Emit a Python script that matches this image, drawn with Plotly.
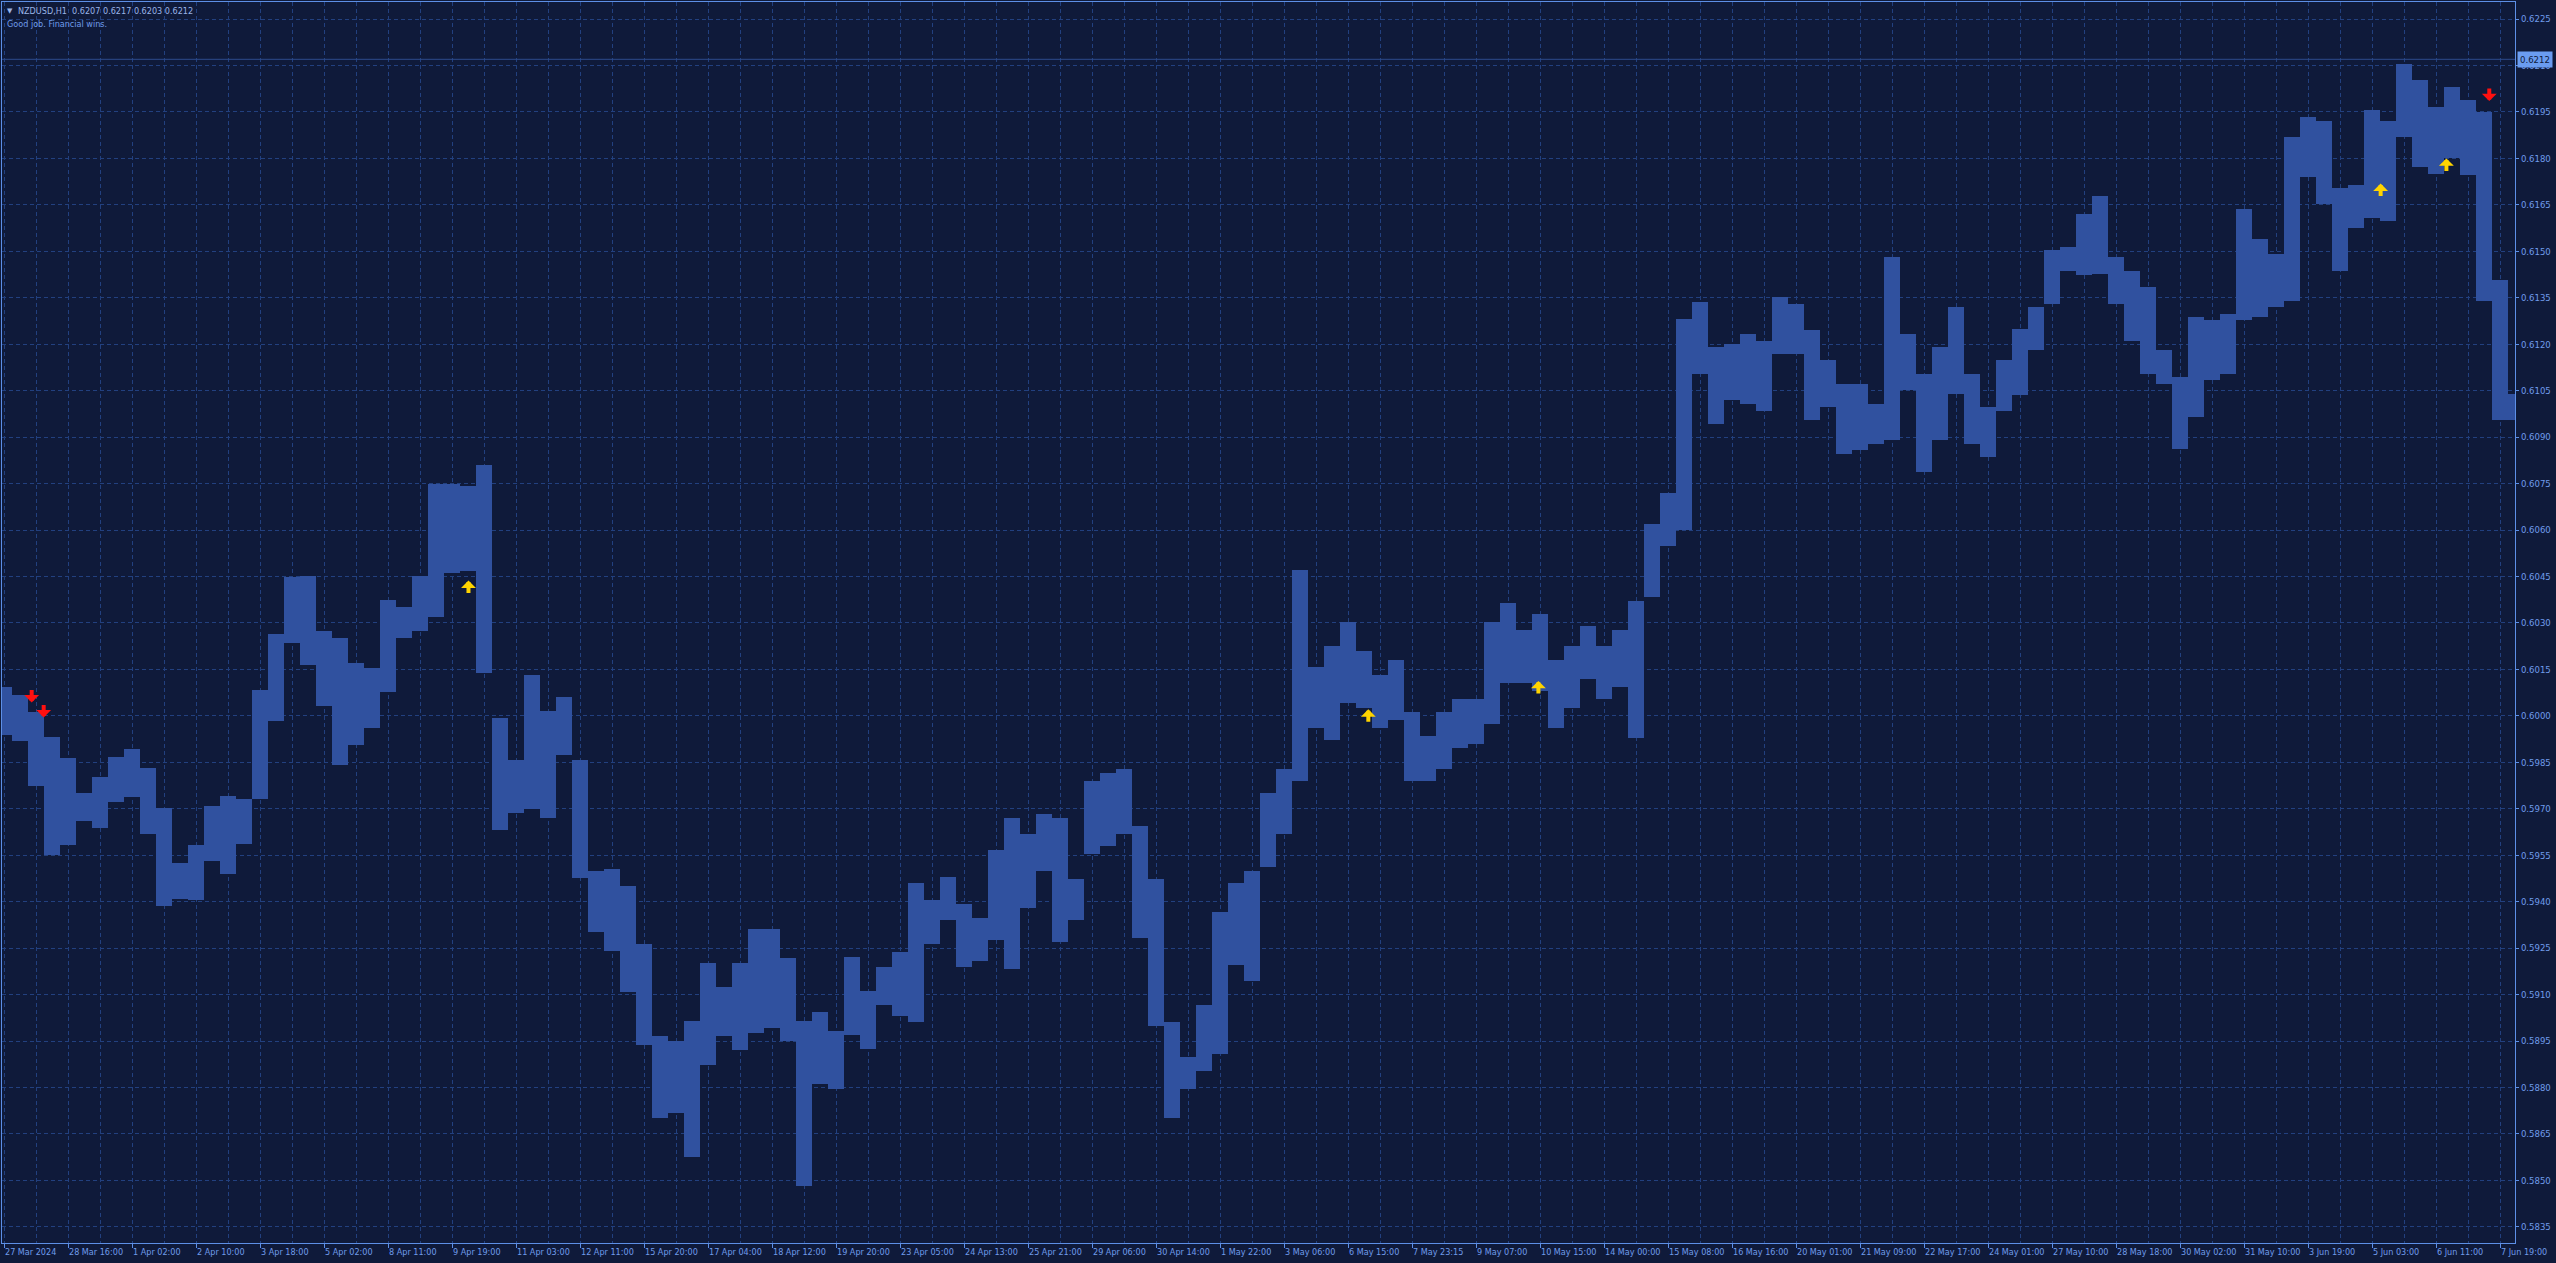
import plotly.graph_objects as go

# ---------------- data ----------------
symbol = "NZDUSD,H1"
quote_open, quote_high, quote_low, quote_close = 0.6207, 0.6217, 0.6203, 0.6212
status_text = "Good job. Financial wins."

# price envelope per sample (each sample = 8 consecutive H1 bars)
bar_high = [
    0.60092, 0.60067, 0.60013, 0.59933, 0.59863, 0.59750, 0.59804, 0.59868, 0.59893, 0.59831,
    0.59702, 0.59524, 0.59583, 0.59710, 0.59741, 0.59733, 0.60085, 0.60265, 0.60450, 0.60453,
    0.60273, 0.60250, 0.60171, 0.60156, 0.60375, 0.60351, 0.60453, 0.60750, 0.60750, 0.60742,
    0.60809, 0.59993, 0.59859, 0.60132, 0.60015, 0.60062, 0.59859, 0.59499, 0.59507, 0.59452,
    0.59264, 0.58967, 0.58951, 0.59014, 0.59202, 0.59123, 0.59202, 0.59311, 0.59311, 0.59217,
    0.59014, 0.59045, 0.58983, 0.59220, 0.59111, 0.59190, 0.59236, 0.59460, 0.59407, 0.59480,
    0.59394, 0.59348, 0.59566, 0.59671, 0.59618, 0.59684, 0.59671, 0.59473, 0.59790, 0.59816,
    0.59829, 0.59645, 0.59473, 0.59012, 0.58900, 0.59065, 0.59368, 0.59460, 0.59500, 0.59750,
    0.59829, 0.60470, 0.60159, 0.60225, 0.60304, 0.60211, 0.60132, 0.60180, 0.60014, 0.59935,
    0.60014, 0.60053, 0.60053, 0.60304, 0.60363, 0.60277, 0.60330, 0.60180, 0.60225, 0.60290,
    0.60225, 0.60277, 0.60370, 0.60620, 0.60720, 0.61280, 0.61336, 0.61191, 0.61202, 0.61234,
    0.61212, 0.61352, 0.61330, 0.61245, 0.61148, 0.61072, 0.61072, 0.61008, 0.61481, 0.61234,
    0.61105, 0.61191, 0.61320, 0.61105, 0.60997, 0.61148, 0.61250, 0.61320, 0.61503, 0.61514,
    0.61621, 0.61680, 0.61481, 0.61438, 0.61384, 0.61180, 0.61094, 0.61288, 0.61277, 0.61298,
    0.61637, 0.61541, 0.61492, 0.61869, 0.61933, 0.61922, 0.61704, 0.61715, 0.61955, 0.61922,
    0.62105, 0.62052, 0.61966, 0.62030, 0.61987, 0.61949, 0.61406, 0.61040,
]
bar_low = [
    0.59938, 0.59920, 0.59772, 0.59551, 0.59583, 0.59659, 0.59637, 0.59723, 0.59739, 0.59620,
    0.59385, 0.59408, 0.59406, 0.59530, 0.59491, 0.59585, 0.59733, 0.59984, 0.60234, 0.60164,
    0.60031, 0.59843, 0.59905, 0.59960, 0.60078, 0.60250, 0.60273, 0.60320, 0.60461, 0.60468,
    0.60140, 0.59632, 0.59687, 0.59700, 0.59671, 0.59874, 0.59475, 0.59303, 0.59241, 0.59108,
    0.58936, 0.58701, 0.58717, 0.58576, 0.58873, 0.58967, 0.58920, 0.58977, 0.58992, 0.58951,
    0.58482, 0.58811, 0.58795, 0.58970, 0.58926, 0.59065, 0.59032, 0.59012, 0.59263, 0.59342,
    0.59190, 0.59210, 0.59276, 0.59184, 0.59381, 0.59500, 0.59269, 0.59342, 0.59553, 0.59579,
    0.59618, 0.59282, 0.58999, 0.58702, 0.58795, 0.58854, 0.58907, 0.59197, 0.59144, 0.59513,
    0.59618, 0.59790, 0.59961, 0.59922, 0.60040, 0.60027, 0.59960, 0.59987, 0.59790, 0.59790,
    0.59829, 0.59895, 0.59908, 0.59974, 0.60106, 0.60106, 0.60080, 0.59961, 0.60027, 0.60119,
    0.60053, 0.60093, 0.59928, 0.60383, 0.60550, 0.60600, 0.61105, 0.60943, 0.61019, 0.61008,
    0.60986, 0.61169, 0.61169, 0.60954, 0.60997, 0.60846, 0.60857, 0.60879, 0.60890, 0.61051,
    0.60787, 0.60890, 0.61040, 0.60879, 0.60836, 0.60986, 0.61037, 0.61180, 0.61331, 0.61438,
    0.61424, 0.61427, 0.61330, 0.61212, 0.61105, 0.61072, 0.60863, 0.60965, 0.61083, 0.61105,
    0.61277, 0.61288, 0.61320, 0.61341, 0.61740, 0.61653, 0.61435, 0.61575, 0.61607, 0.61597,
    0.61869, 0.61772, 0.61750, 0.61801, 0.61747, 0.61340, 0.60954, 0.60954,
]

time_labels = [
    "27 Mar 2024", "28 Mar 16:00", "1 Apr 02:00", "2 Apr 10:00", "3 Apr 18:00",
    "5 Apr 02:00", "8 Apr 11:00", "9 Apr 19:00", "11 Apr 03:00", "12 Apr 11:00",
    "15 Apr 20:00", "17 Apr 04:00", "18 Apr 12:00", "19 Apr 20:00", "23 Apr 05:00",
    "24 Apr 13:00", "25 Apr 21:00", "29 Apr 06:00", "30 Apr 14:00", "1 May 22:00",
    "3 May 06:00", "6 May 15:00", "7 May 23:15", "9 May 07:00", "10 May 15:00",
    "14 May 00:00", "15 May 08:00", "16 May 16:00", "20 May 01:00", "21 May 09:00",
    "22 May 17:00", "24 May 01:00", "27 May 10:00", "28 May 18:00", "30 May 02:00",
    "31 May 10:00", "3 Jun 19:00", "5 Jun 03:00", "6 Jun 11:00", "7 Jun 19:00",
]
samples_per_label = 4

# signal arrows: position in samples, price at the arrow tip
sell_x = [1.73, 2.48, 155.33]
sell_price = [0.60043, 0.59995, 0.61985]
buy_x = [29.03, 85.27, 95.90, 148.54, 152.65]
buy_price = [0.60437, 0.60021, 0.60113, 0.61719, 0.61800]

price_min, price_max = 0.58298, 0.62305
price_tick0, price_step = 0.5835, 0.0015

# ---------------- styling ----------------
BG = "#0f1a3a"
GRID = "#22407f"
AXIS = "#5d8fe6"
TXT = "#6f9ceb"
BARC = "#30519f"
FONT = "DejaVu Sans Condensed, Roboto, Liberation Sans, sans-serif"
DASH = "4px,3px"

n = len(bar_high)
xs = list(range(n))

fig = go.Figure()
fig.add_trace(go.Bar(
    x=xs,
    y=[h - l for h, l in zip(bar_high, bar_low)],
    base=bar_low,
    width=1.0,
    marker=dict(color=BARC, line=dict(width=0)),
    hoverinfo="skip",
))

# current price line
fig.add_hline(y=quote_close, line=dict(color="#2c4a8c", width=1))

tickvals = [k * samples_per_label for k in range(len(time_labels))]

fig.update_layout(
    width=2556, height=1263,
    margin=dict(l=2, r=41, t=2, b=20, pad=0),
    paper_bgcolor=BG, plot_bgcolor=BG,
    showlegend=False, bargap=0,
    font=dict(family=FONT, size=9, color=TXT),
    xaxis=dict(
        range=[-0.125, -0.125 + 2513 / 16],
        tickmode="array", tickvals=tickvals, ticktext=time_labels,
        tickangle=0,
        ticks="outside", ticklen=4, tickcolor=AXIS, tickwidth=1,
        ticklabelposition="outside right",
        showline=True, linecolor=AXIS, linewidth=1, mirror=True,
        showgrid=True, gridcolor=GRID, griddash=DASH, gridwidth=1,
        minor=dict(tickmode="linear", tick0=0, dtick=2, showgrid=True,
                   gridcolor=GRID, griddash=DASH, gridwidth=1, ticks=""),
        zeroline=False, fixedrange=True,
        tickfont=dict(family=FONT, size=9, color=TXT),
    ),
    yaxis=dict(
        side="right",
        range=[price_min, price_max],
        tickmode="linear", tick0=price_tick0, dtick=price_step, tickformat=".4f",
        ticks="outside", ticklen=3, tickcolor=AXIS,
        showline=True, linecolor=AXIS, linewidth=1, mirror=True,
        showgrid=True, gridcolor=GRID, griddash=DASH, gridwidth=1,
        zeroline=False, fixedrange=True,
        tickfont=dict(family=FONT, size=9.5, color=TXT),
    ),
)

# signal arrows
for x, p in zip(sell_x, sell_price):
    fig.add_annotation(x=x, y=p, xref="x", yref="y", text="", showarrow=True,
                       ax=0, ay=-14, arrowhead=1, arrowsize=0.62, arrowwidth=4,
                       arrowcolor="#ff1010", standoff=0)
for x, p in zip(buy_x, buy_price):
    fig.add_annotation(x=x, y=p, xref="x", yref="y", text="", showarrow=True,
                       ax=0, ay=14, arrowhead=1, arrowsize=0.62, arrowwidth=4,
                       arrowcolor="#ffd400", standoff=0)

# current price label box
fig.add_annotation(x=1, y=quote_close, xref="paper", yref="y", xanchor="left",
                   yanchor="middle", xshift=2, text=f"{quote_close:.4f}", showarrow=False,
                   bgcolor="#6a9cf0", borderpad=2,
                   font=dict(family=FONT, size=9.5, color="#0f1a3a"))

# header texts
fig.add_annotation(x=0, y=1, xref="paper", yref="paper", xanchor="left", yanchor="top",
                   xshift=3, yshift=-3, text="▼", showarrow=False,
                   font=dict(family="DejaVu Sans", size=7, color="#9ab4e8"))
fig.add_annotation(x=0, y=1, xref="paper", yref="paper", xanchor="left", yanchor="top",
                   xshift=14, yshift=-2, showarrow=False,
                   text=f"{symbol}  {quote_open:.4f} {quote_high:.4f} {quote_low:.4f} {quote_close:.4f}",
                   font=dict(family=FONT, size=9, color="#9ab4e8"))
fig.add_annotation(x=0, y=1, xref="paper", yref="paper", xanchor="left", yanchor="top",
                   xshift=3, yshift=-15, showarrow=False, text=status_text,
                   font=dict(family=FONT, size=9, color="#6f9ceb"))

fig.write_html("out.html", config={"displayModeBar": False},
               post_script="document.body.style.margin='0';document.body.style.overflow='hidden';")
